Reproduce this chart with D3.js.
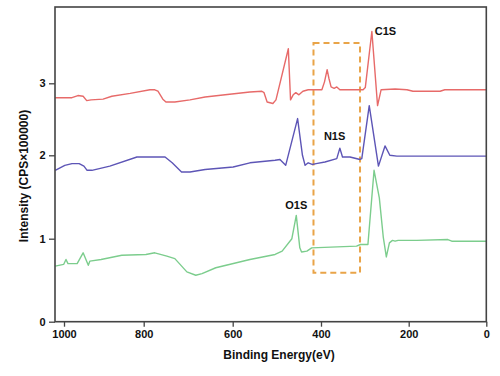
<!DOCTYPE html>
<html>
<head>
<meta charset="utf-8">
<script src="https://cdn.jsdelivr.net/npm/d3@7"></script>
<style>
  body { margin: 0; background: #fff; }
  text { font-family: "Liberation Sans", Arial, sans-serif; font-weight: bold; }
</style>
</head>
<body>
<div id="container"></div>
<script>
// binding energy (eV) and intensity (CPS x 100000)
let redBE = [1022, 980, 965, 952, 943, 932, 902, 880, 834, 786, 775, 768, 757, 750, 730, 696, 662, 617, 561, 534, 529, 522, 509, 502, 474, 469, 463, 457, 450, 441, 429, 414, 398, 392, 386, 382, 377, 370, 364, 357, 304, 299, 284, 271, 263, 231, 204, 189, 119, 107, 0];
let redI  = [2.80, 2.80, 2.83, 2.82, 2.76, 2.77, 2.78, 2.82, 2.86, 2.91, 2.91, 2.89, 2.78, 2.74, 2.74, 2.77, 2.81, 2.84, 2.88, 2.89, 2.87, 2.74, 2.72, 2.77, 3.48, 2.77, 2.84, 2.87, 2.84, 2.89, 2.91, 2.91, 2.91, 3.02, 3.19, 3.07, 2.95, 2.93, 2.95, 2.91, 2.91, 2.94, 3.72, 2.69, 2.91, 2.92, 2.91, 2.89, 2.89, 2.91, 2.91];

let blueBE = [1022, 998, 980, 962, 950, 942, 930, 885, 817, 752, 736, 715, 696, 662, 599, 561, 504, 493, 480, 453, 442, 436, 429, 420, 411, 391, 364, 357, 351, 334, 311, 307, 290, 269, 254, 243, 227, 0];
let blueI  = [1.82, 1.88, 1.90, 1.90, 1.87, 1.82, 1.82, 1.87, 1.98, 1.98, 1.91, 1.80, 1.80, 1.83, 1.86, 1.91, 1.94, 1.95, 1.88, 2.51, 2.00, 1.88, 1.91, 1.89, 1.90, 1.92, 1.96, 2.10, 1.98, 1.98, 1.95, 1.96, 2.69, 1.87, 2.13, 2.00, 1.99, 1.99];

let greenBE = [1022, 1001, 995, 990, 967, 952, 939, 935, 907, 855, 795, 775, 748, 730, 703, 683, 669, 638, 561, 504, 488, 466, 456, 448, 444, 432, 421, 319, 310, 293, 279, 267, 258, 251, 244, 237, 231, 224, 179, 99, 89, 0];
let greenI  = [0.67, 0.69, 0.75, 0.70, 0.70, 0.83, 0.68, 0.73, 0.75, 0.80, 0.81, 0.83, 0.79, 0.76, 0.60, 0.56, 0.58, 0.65, 0.75, 0.81, 0.85, 1.00, 1.28, 0.89, 0.84, 0.85, 0.89, 0.91, 0.93, 0.93, 1.82, 1.49, 1.02, 0.78, 0.95, 0.98, 0.97, 0.98, 0.98, 0.99, 0.97, 0.97];

let xTicks = [1000, 800, 600, 400, 200, 0];
let yTicks = [0, 1, 2, 3];

// highlighted region (dashed box) and peak labels
let boxBE = [417, 311];
let boxI = [0.59, 3.56];
let peakNames = ["C1S", "N1S", "O1S"];
let peakBE = [253, 369, 456];
let peakI = [3.73, 2.26, 1.40];

let w = 500;
let h = 376;

let viz = d3.select("#container")
  .append("svg")
  .attr("width", w)
  .attr("height", h);

// the original axes are slightly uneven, so piecewise scales follow its ticks
let xScale = d3.scaleLinear()
  .domain([1022.6, 1000, 800, 600, 400, 200, 0])
  .range([55, 64, 143.7, 232.7, 321, 408.7, 486.3]);
let yScale = d3.scaleLinear()
  .domain([0, 1, 2, 3, 4.06])
  .range([321.7, 238.7, 155.3, 83.3, 7]);

let lineMaker = d3.line()
  .x(function(d) { return xScale(d[0]); })
  .y(function(d) { return yScale(d[1]); });

let series = [
  { be: redBE, i: redI, color: "#e76a69" },
  { be: blueBE, i: blueI, color: "#5d55b6" },
  { be: greenBE, i: greenI, color: "#7ccd8d" }
];

// dashed box
viz.append("rect")
  .attr("x", xScale(boxBE[0]))
  .attr("y", yScale(boxI[1]))
  .attr("width", xScale(boxBE[1]) - xScale(boxBE[0]))
  .attr("height", yScale(boxI[0]) - yScale(boxI[1]))
  .attr("fill", "none")
  .attr("stroke", "#e9a448")
  .attr("stroke-width", 2)
  .attr("stroke-dasharray", "6,4");

viz.selectAll(".line")
  .data(series)
  .enter()
  .append("path")
  .attr("class", "line")
  .attr("d", function(s) { return lineMaker(d3.zip(s.be, s.i)); })
  .attr("fill", "none")
  .attr("stroke", function(s) { return s.color; })
  .attr("stroke-width", 1.4)
  .attr("stroke-linejoin", "round");

// peak labels
viz.selectAll(".peak")
  .data(peakNames)
  .enter()
  .append("text")
  .attr("class", "peak")
  .attr("x", function(d, i) { return xScale(peakBE[i]); })
  .attr("y", function(d, i) { return yScale(peakI[i]); })
  .attr("dy", "0.35em")
  .attr("text-anchor", "middle")
  .style("font-size", "11px")
  .attr("fill", "#111")
  .text(function(d) { return d; });

// axes
let xAxis = d3.axisBottom(xScale).tickValues(xTicks).tickFormat(d3.format("d"))
  .tickSize(5).tickPadding(3.5);
let xAxisGroup = viz.append("g")
  .attr("transform", "translate(0," + yScale(0) + ")")
  .call(xAxis);

let yAxis = d3.axisLeft(yScale).tickValues(yTicks).tickFormat(d3.format("d"))
  .tickSize(6).tickPadding(3.5);
let yAxisGroup = viz.append("g")
  .attr("transform", "translate(" + xScale(1022.6) + ",0)")
  .call(yAxis);

[xAxisGroup, yAxisGroup].forEach(function(g) {
  g.select(".domain").remove();
  g.selectAll(".tick line").attr("stroke", "#444").attr("stroke-width", 1.3);
  g.selectAll(".tick text").attr("fill", "#111").style("font-size", "11px");
});

// frame
viz.append("rect")
  .attr("x", xScale(1022.6))
  .attr("y", yScale(4.06))
  .attr("width", xScale(0) - xScale(1022.6))
  .attr("height", yScale(0) - yScale(4.06))
  .attr("fill", "none")
  .attr("stroke", "#444")
  .attr("stroke-width", 1.6);

// titles
viz.append("text")
  .attr("x", 279)
  .attr("y", 359)
  .attr("text-anchor", "middle")
  .style("font-size", "12px")
  .attr("fill", "#111")
  .text("Binding Energy(eV)");

viz.append("text")
  .attr("transform", "translate(27.5,176) rotate(-90)")
  .attr("text-anchor", "middle")
  .style("font-size", "12px")
  .attr("fill", "#111")
  .text("Intensity (CPS×100000)");
</script>
</body>
</html>
